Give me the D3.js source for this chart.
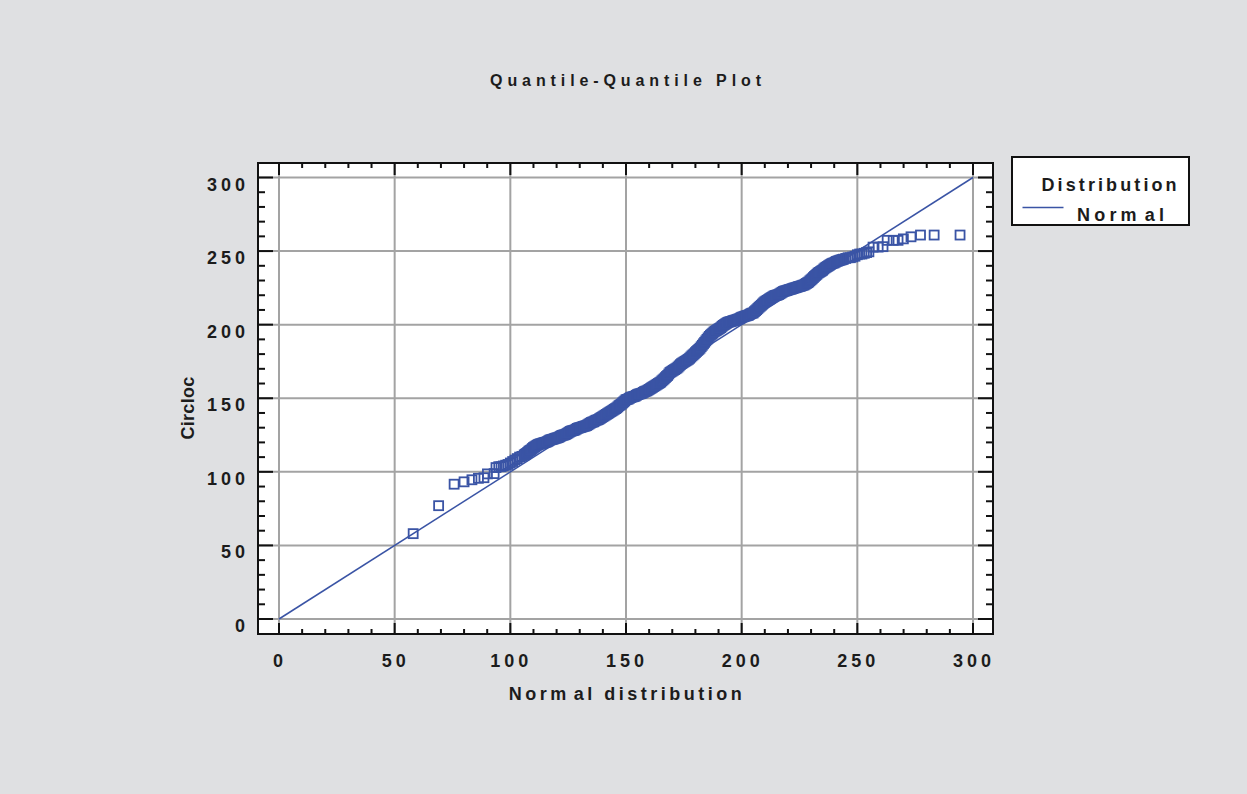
<!DOCTYPE html>
<html>
<head>
<meta charset="utf-8">
<script src="https://cdn.jsdelivr.net/npm/d3@7"></script>
<style>
  html, body { margin: 0; padding: 0; background: #dfe0e2; }
  svg { display: block; }
  text { font-family: "Liberation Sans", Arial, sans-serif; font-weight: bold; fill: #1c1c1c; }
</style>
</head>
<body>
<svg id="chart" width="1247" height="794"></svg>
<script>
// ---- data ----
const chartTitle = "Quantile-Quantile Plot";
const xAxisTitle = ["Norm", "al distribution"];   // "Normal distribution"
const yAxisTitle = "Circloc";
const legendTitle = "Distribution";
const legendItems = [["Norm", "al"]];               // "Normal"
const xTicks = [0, 50, 100, 150, 200, 250, 300];
const yTicks = [0, 50, 100, 150, 200, 250, 300];
const referenceLine = [[0, 0], [300, 300]];

// lower tail (individual squares)
const tailLowQ = [58, 69, 75.7, 80, 83.4, 86.2, 88.6, 90.1, 93, 93.8, 95,
  96, 97, 98, 99, 100, 101, 102, 103, 104, 105];
const tailLowV = [58, 77, 91.6, 93.2, 94.6, 95.6, 96, 98.6, 98.8, 102.9, 103.5,
  103.5, 104, 104.5, 105, 106, 107, 108, 109, 110, 110.5];

// dense body: theoretical quantiles (read every half unit along the band)
const bodyQ = [
  106, 106.5, 107, 107.5, 108, 108.5, 109, 109.5, 110, 110.5, 111, 111.5, 112, 112.5, 113, 113.5, 114, 114.5, 115, 115.5,
  116, 116.5, 117, 117.5, 118, 118.5, 119, 119.5, 120, 120.5, 121, 121.5, 122, 122.5, 123, 123.5, 124, 124.5, 125, 125.5,
  126, 126.5, 127, 127.5, 128, 128.5, 129, 129.5, 130, 130.5, 131, 131.5, 132, 132.5, 133, 133.5, 134, 134.5, 135, 135.5,
  136, 136.5, 137, 137.5, 138, 138.5, 139, 139.5, 140, 140.5, 141, 141.5, 142, 142.5, 143, 143.5, 144, 144.5, 145, 145.5,
  146, 146.5, 147, 147.5, 148, 148.5, 149, 149.5, 150, 150.5, 151, 151.5, 152, 152.5, 153, 153.5, 154, 154.5, 155, 155.5,
  156, 156.5, 157, 157.5, 158, 158.5, 159, 159.5, 160, 160.5, 161, 161.5, 162, 162.5, 163, 163.5, 164, 164.5, 165, 165.5,
  166, 166.5, 167, 167.5, 168, 168.5, 169, 169.5, 170, 170.5, 171, 171.5, 172, 172.5, 173, 173.5, 174, 174.5, 175, 175.5,
  176, 176.5, 177, 177.5, 178, 178.5, 179, 179.5, 180, 180.5, 181, 181.5, 182, 182.5, 183, 183.5, 184, 184.5, 185, 185.5,
  186, 186.5, 187, 187.5, 188, 188.5, 189, 189.5, 190, 190.5, 191, 191.5, 192, 192.5, 193, 193.5, 194, 194.5, 195, 195.5,
  196, 196.5, 197, 197.5, 198, 198.5, 199, 199.5, 200, 200.5, 201, 201.5, 202, 202.5, 203, 203.5, 204, 204.5, 205, 205.5,
  206, 206.5, 207, 207.5, 208, 208.5, 209, 209.5, 210, 210.5, 211, 211.5, 212, 212.5, 213, 213.5, 214, 214.5, 215, 215.5,
  216, 216.5, 217, 217.5, 218, 218.5, 219, 219.5, 220, 220.5, 221, 221.5, 222, 222.5, 223, 223.5, 224, 224.5, 225, 225.5,
  226, 226.5, 227, 227.5, 228, 228.5, 229, 229.5, 230, 230.5, 231, 231.5, 232, 232.5, 233, 233.5, 234, 234.5, 235, 235.5,
  236, 236.5, 237, 237.5, 238, 238.5, 239, 239.5, 240, 240.5, 241, 241.5, 242, 242.5, 243, 243.5
];
// dense body: observed Circloc values
const bodyV = [
  111.5, 112, 112.5, 113.2, 114, 114.5, 115, 115.8, 116.5, 117, 117.5, 118, 118.5, 118.8, 119, 119.2, 119.5, 119.8, 120, 120.2,
  120.5, 121, 121.5, 121.8, 122, 122.2, 122.5, 122.8, 123, 123.2, 123.5, 124, 124.5, 124.8, 125, 125.2, 125.5, 126, 126.5, 127,
  127.5, 127.8, 128, 128.2, 128.5, 129, 129.5, 129.8, 130, 130.2, 130.5, 130.8, 131, 131.2, 131.5, 132, 132.5, 133, 133.5, 133.8,
  134, 134.5, 135, 135.2, 135.5, 136, 136.5, 137, 137.5, 138, 138.5, 139, 139.5, 140, 140.5, 141, 141.5, 142, 142.5, 143,
  143.5, 144.2, 145, 145.5, 146, 146.8, 147.5, 148.2, 149, 149.2, 149.5, 150, 150.5, 150.8, 151, 151.2, 151.5, 152, 152.5, 152.8,
  153, 153.2, 153.5, 154, 154.5, 154.8, 155, 155.5, 156, 156.5, 157, 157.5, 158, 158.5, 159, 159.5, 160, 160.5, 161, 161.8,
  162.5, 163.2, 164, 164.8, 165.5, 166.5, 167.5, 168, 168.5, 169, 169.5, 170, 170.5, 171.2, 172, 172.8, 173.5, 174, 174.5, 175,
  175.5, 176, 176.5, 177.2, 178, 178.8, 179.5, 180.2, 181, 181.8, 182.5, 183.2, 184, 185, 186, 187, 188, 189, 190, 191,
  192, 192.8, 193.5, 194.2, 195, 195.5, 196, 196.5, 197, 197.5, 198, 198.8, 199.5, 200, 200.5, 201, 201.5, 201.8, 202, 202.2,
  202.5, 202.8, 203, 203.2, 203.5, 203.8, 204, 204.5, 205, 205.2, 205.5, 205.8, 206, 206.2, 206.5, 207, 207.5, 207.8, 208, 208.8,
  209.5, 210.2, 211, 211.8, 212.5, 213.2, 214, 214.8, 215.5, 216, 216.5, 217, 217.5, 218, 218.5, 219, 219.5, 219.8, 220, 220.2,
  220.5, 221, 221.5, 222, 222.5, 222.8, 223, 223.2, 223.5, 223.8, 224, 224.2, 224.5, 224.8, 225, 225.2, 225.5, 225.8, 226, 226.2,
  226.5, 226.8, 227, 227.5, 228, 228.5, 229, 229.8, 230.5, 231.2, 232, 232.8, 233.5, 234.2, 235, 235.5, 236, 236.5, 237, 237.8,
  238.5, 239, 239.5, 240, 240.5, 241, 241.5, 241.8, 242, 242.5, 243, 243.2, 243.5, 243.8, 244, 244.2
];

// upper tail (squares becoming distinct)
const tailHighQ = [244, 245, 246, 247, 248, 249, 250, 251, 252, 253, 254, 255,
  256.8, 259, 261.1, 262.9, 265.5, 267.6, 269.9, 273.2, 277.3, 283.2, 294.4];
const tailHighV = [244.5, 245, 245.5, 245.5, 246, 246.5, 247.5, 248, 248, 248.5, 249, 249.5,
  252.7, 252.7, 253, 257.3, 257.3, 257.3, 258.3, 259.7, 260.9, 260.9, 260.9];

// ---- drawing ----
const svg = d3.select("#chart");
const frame = { left: 258, right: 993, top: 163, bottom: 634 };
const blue = "#3a54a5";
const grid = "#a3a3a3";

const x = d3.scaleLinear().domain([0, 300]).range([279, 973]);
const y = d3.scaleLinear().domain([0, 300]).range([619, 177.5]);

svg.append("rect").attr("x", 0).attr("y", 0).attr("width", 1247).attr("height", 794)
  .attr("fill", "#dfe0e2");

// plot background
svg.append("rect")
  .attr("x", frame.left).attr("y", frame.top)
  .attr("width", frame.right - frame.left).attr("height", frame.bottom - frame.top)
  .attr("fill", "#ffffff");

// grid lines
svg.append("g").selectAll("line").data(xTicks).join("line")
  .attr("x1", d => x(d)).attr("x2", d => x(d))
  .attr("y1", frame.top).attr("y2", frame.bottom)
  .attr("stroke", grid).attr("stroke-width", 2);
svg.append("g").selectAll("line").data(yTicks).join("line")
  .attr("y1", d => y(d)).attr("y2", d => y(d))
  .attr("x1", frame.left).attr("x2", frame.right)
  .attr("stroke", grid).attr("stroke-width", 2);

// tick marks (inward, all four sides)
const minorX = d3.range(0, 301, 10);
const minorY = d3.range(0, 301, 10);
const tk = svg.append("g").attr("stroke", "#111").attr("stroke-width", 2);
const isMajor = d => d % 50 === 0;
tk.selectAll(".tb").data(minorX).join("line")
  .attr("x1", d => x(d)).attr("x2", d => x(d))
  .attr("y1", frame.bottom).attr("y2", d => frame.bottom - (isMajor(d) ? 11 : 5));
tk.selectAll(".tt").data(minorX).join("line")
  .attr("x1", d => x(d)).attr("x2", d => x(d))
  .attr("y1", frame.top).attr("y2", d => frame.top + (isMajor(d) ? 12 : 5));
tk.selectAll(".tl").data(minorY).join("line")
  .attr("y1", d => y(d)).attr("y2", d => y(d))
  .attr("x1", frame.left).attr("x2", d => frame.left + (isMajor(d) ? 15 : 7));
tk.selectAll(".tr").data(minorY).join("line")
  .attr("y1", d => y(d)).attr("y2", d => y(d))
  .attr("x1", frame.right).attr("x2", d => frame.right - (isMajor(d) ? 15 : 7));

// frame
svg.append("rect")
  .attr("x", frame.left).attr("y", frame.top)
  .attr("width", frame.right - frame.left).attr("height", frame.bottom - frame.top)
  .attr("fill", "none").attr("stroke", "#111").attr("stroke-width", 2);

// reference line
svg.append("line")
  .attr("x1", x(referenceLine[0][0])).attr("y1", y(referenceLine[0][1]))
  .attr("x2", x(referenceLine[1][0])).attr("y2", y(referenceLine[1][1]))
  .attr("stroke", blue).attr("stroke-width", 1.5);

// points
const allQ = tailLowQ.concat(bodyQ, tailHighQ);
const allV = tailLowV.concat(bodyV, tailHighV);
const pts = allQ.map((q, i) => [q, allV[i]]).filter(d => d[1] !== undefined);
const ms = 9;
svg.append("g").selectAll("rect").data(pts).join("rect")
  .attr("x", d => x(d[0]) - ms / 2).attr("y", d => y(d[1]) - ms / 2)
  .attr("width", ms).attr("height", ms)
  .attr("fill", "none").attr("stroke", blue).attr("stroke-width", 1.8);

// tick labels
svg.append("g").selectAll("text").data(xTicks).join("text")
  .attr("x", d => x(d) + 1).attr("y", 667)
  .attr("text-anchor", "middle")
  .attr("font-size", 18).attr("letter-spacing", 4)
  .text(d => d);
svg.append("g").selectAll("text").data(yTicks).join("text")
  .attr("x", 249).attr("y", d => y(d) + 13)
  .attr("text-anchor", "end")
  .attr("font-size", 18).attr("letter-spacing", 4)
  .text(d => d);

// titles
svg.append("text").attr("x", 628).attr("y", 86)
  .attr("text-anchor", "middle").attr("font-size", 16).attr("letter-spacing", 4.9)
  .text(chartTitle);
const xt = svg.append("text").attr("x", 627).attr("y", 700)
  .attr("text-anchor", "middle").attr("font-size", 18).attr("letter-spacing", 3.5);
xt.append("tspan").text(xAxisTitle[0]);
xt.append("tspan").attr("dx", 4).text(xAxisTitle[1]);
svg.append("text").attr("transform", "translate(194,408) rotate(-90)")
  .attr("text-anchor", "middle").attr("font-size", 18).attr("letter-spacing", 0.3)
  .text(yAxisTitle);

// legend
const lg = svg.append("g");
lg.append("rect").attr("x", 1012).attr("y", 157).attr("width", 177).attr("height", 68)
  .attr("fill", "#ffffff").attr("stroke", "#111").attr("stroke-width", 2);
lg.append("text").attr("x", 1041.5).attr("y", 191)
  .attr("font-size", 18).attr("letter-spacing", 3.1).text(legendTitle);
lg.append("line").attr("x1", 1022.5).attr("x2", 1063.5).attr("y1", 207.5).attr("y2", 207.5)
  .attr("stroke", blue).attr("stroke-width", 1.5);
const lt = lg.append("text").attr("x", 1077).attr("y", 221)
  .attr("font-size", 18).attr("letter-spacing", 4.2);
lt.append("tspan").text(legendItems[0][0]);
lt.append("tspan").attr("dx", 4).text(legendItems[0][1]);
</script>
</body>
</html>
